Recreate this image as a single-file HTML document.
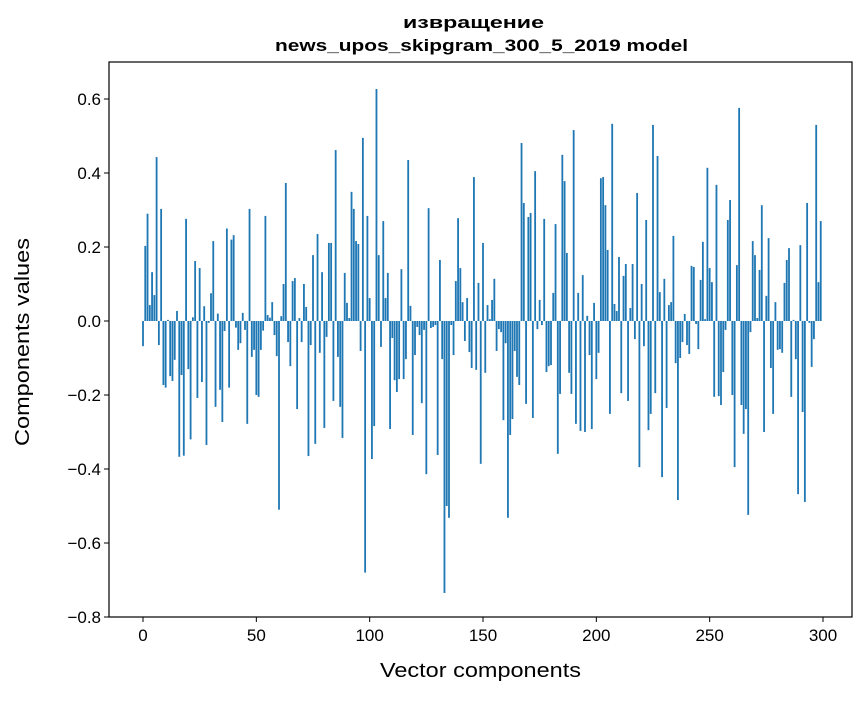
<!DOCTYPE html>
<html><head><meta charset="utf-8"><style>
body{margin:0;background:#fff;}
svg text{font-family:"Liberation Sans","DejaVu Sans",sans-serif;fill:#000;}
</style></head><body>
<svg id="chart" width="867" height="696" xmlns="http://www.w3.org/2000/svg">
<rect width="867" height="696" fill="#fff"/>
<text x="473.5" y="28" text-anchor="middle" font-size="17" font-weight="bold" textLength="141" lengthAdjust="spacingAndGlyphs">извращение</text>
<text x="481.5" y="51" text-anchor="middle" font-size="17" font-weight="bold" textLength="413" lengthAdjust="spacingAndGlyphs">news_upos_skipgram_300_5_2019 model</text>
<g id="bars"></g>
<g id="axes"></g>
<text x="480.5" y="677" text-anchor="middle" font-size="20" textLength="201" lengthAdjust="spacingAndGlyphs">Vector components</text>
<text x="0" y="0" transform="translate(29,342) rotate(-90)" text-anchor="middle" font-size="20" textLength="208" lengthAdjust="spacingAndGlyphs">Components values</text>
</svg>
<script>
const values = [
-0.068,0.203,0.29,0.043,0.132,0.07,0.443,-0.065,0.303,-0.173,
-0.18,0.003,-0.149,-0.162,-0.105,0.027,-0.367,-0.146,-0.364,0.276,
-0.13,-0.32,0.01,0.162,-0.208,0.143,-0.165,0.04,-0.335,-0.005,
0.075,0.216,-0.232,0.02,-0.186,-0.273,-0.027,0.25,-0.18,0.22,
0.232,-0.018,-0.078,-0.06,0.022,-0.024,-0.278,0.303,-0.097,-0.078,
-0.2,-0.205,-0.078,-0.026,0.284,0.016,0.009,0.051,-0.038,-0.095,
-0.51,0.013,0.1,0.373,-0.057,-0.122,0.108,0.116,-0.238,0.008,
-0.057,0.1,0.038,-0.365,-0.065,0.178,-0.332,0.235,-0.086,0.132,
-0.289,-0.043,0.211,0.211,-0.216,0.462,-0.097,-0.232,-0.316,0.13,
0.049,0.008,0.349,0.303,0.216,0.208,-0.081,0.495,-0.68,0.284,
0.062,-0.373,-0.284,0.627,0.178,-0.07,0.27,0.062,0.13,-0.292,
-0.046,-0.16,-0.192,-0.157,0.14,-0.157,-0.103,0.435,0.041,-0.308,
-0.092,-0.016,-0.038,-0.222,-0.024,-0.414,0.305,-0.019,-0.016,-0.011,
-0.362,0.165,-0.103,-0.735,-0.5,-0.532,-0.011,-0.092,0.108,0.278,
0.143,0.051,-0.054,0.062,-0.084,-0.127,0.389,-0.132,0.103,-0.386,
0.211,-0.14,0.043,0.005,0.057,0.114,-0.081,-0.022,-0.03,-0.268,
-0.06,-0.532,-0.308,-0.265,-0.081,-0.151,-0.173,0.481,0.319,-0.224,
0.281,0.292,-0.262,0.405,-0.022,0.057,-0.011,0.276,-0.138,-0.122,
-0.119,0.076,0.262,-0.359,-0.197,0.449,0.378,0.184,-0.14,-0.197,
0.516,-0.278,0.076,-0.297,0.124,-0.3,0.014,-0.092,-0.292,0.049,
-0.157,-0.086,0.386,0.389,0.313,0.192,-0.251,0.533,0.046,0.027,
0.173,-0.195,0.122,0.154,-0.216,0.035,0.154,-0.049,0.346,-0.395,
0.1,-0.068,0.273,-0.295,-0.251,0.53,-0.195,0.446,0.078,-0.422,
0.114,-0.235,0.043,0.051,0.23,-0.114,-0.484,-0.1,-0.057,0.019,
-0.065,-0.089,0.149,0.146,-0.008,-0.076,0.111,0.214,0.005,0.414,
0.143,0.105,-0.205,0.368,-0.203,-0.227,-0.138,-0.024,0.273,0.327,
-0.2,-0.395,0.151,0.576,-0.227,-0.305,-0.238,-0.524,-0.03,0.216,
0.178,0.008,0.138,0.313,-0.3,0.068,0.224,-0.127,-0.251,0.051,
-0.078,-0.076,-0.086,0.103,0.165,0.197,-0.205,0.003,-0.103,-0.468,
0.205,-0.246,-0.489,0.319,-0.005,-0.124,-0.049,0.53,0.105,0.27
];
const xTicks = [0,50,100,150,200,250,300];
const yTicks = [-0.8,-0.6,-0.4,-0.2,0.0,0.2,0.4,0.6];
const yTickLabels = ["\u22120.8","\u22120.6","\u22120.4","\u22120.2","0.0","0.2","0.4","0.6"];

const L=109,R=852,T=62,B=617;
const xs = v => 143 + v*(680/300);
const ys = v => 321 - v*370;
const NS="http://www.w3.org/2000/svg";
const bars=document.getElementById('bars');
const bw=0.8*680/300;
values.forEach((v,i)=>{
  const r=document.createElementNS(NS,'rect');
  
  
  const y0=ys(0), y1=ys(v);
  r.setAttribute('x',xs(i)-bw/2);
  r.setAttribute('y',Math.min(y0,y1));
  r.setAttribute('width',bw);
  r.setAttribute('height',Math.max(Math.abs(y1-y0),0.3));
  r.setAttribute('fill','#1f77b4');
  bars.appendChild(r);
});
const ax=document.getElementById('axes');
const frame=document.createElementNS(NS,'rect');


frame.setAttribute('x',L);frame.setAttribute('y',T);
frame.setAttribute('width',R-L);frame.setAttribute('height',B-T);
frame.setAttribute('fill','none');frame.setAttribute('stroke','#000');frame.setAttribute('stroke-width','1.2');
ax.appendChild(frame);
xTicks.forEach(t=>{
  const x=xs(t);
  const l=document.createElementNS(NS,'line');
  
  
  l.setAttribute('x1',x);l.setAttribute('x2',x);l.setAttribute('y1',B);l.setAttribute('y2',B+5);
  l.setAttribute('stroke','#000');
  ax.appendChild(l);
  const tx=document.createElementNS(NS,'text');
  
  
  tx.setAttribute('x',x);tx.setAttribute('y',B+24);
  tx.setAttribute('text-anchor','middle');tx.setAttribute('font-size','17');
  tx.textContent=t;
  ax.appendChild(tx);
});
yTicks.forEach((t,i)=>{
  const y=ys(t);
  const l=document.createElementNS(NS,'line');
  
  
  l.setAttribute('x1',L-5);l.setAttribute('x2',L);l.setAttribute('y1',y);l.setAttribute('y2',y);
  l.setAttribute('stroke','#000');
  ax.appendChild(l);
  const tx=document.createElementNS(NS,'text');
  
  
  tx.setAttribute('x',L-8);tx.setAttribute('y',y+6);
  tx.setAttribute('text-anchor','end');tx.setAttribute('font-size','17');
  tx.textContent=yTickLabels[i];
  ax.appendChild(tx);
});
</script>
</body></html>
